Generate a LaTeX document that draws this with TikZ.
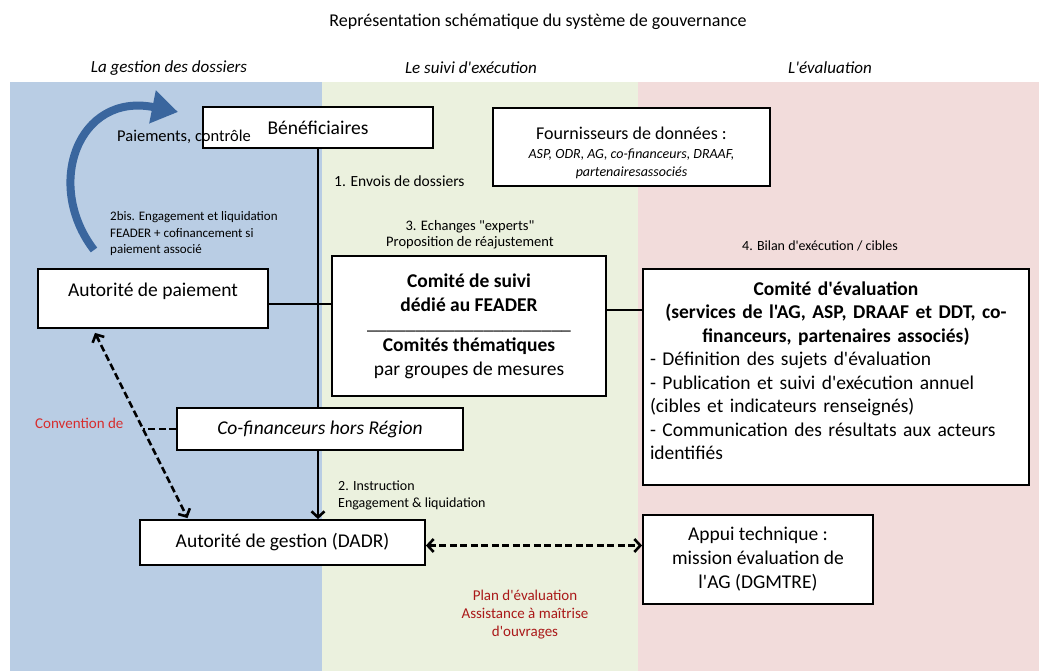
\documentclass[tikz,border=0pt]{standalone}
\usepackage{fontspec}
\setmainfont{Carlito}[Ligatures=TeXOff]
\usetikzlibrary{arrows.meta,positioning,calc}

\definecolor{colblue}{RGB}{185,205,228}
\definecolor{colgreen}{RGB}{235,241,222}
\definecolor{colpink}{RGB}{242,220,219}
\definecolor{arcblue}{RGB}{58,102,158}
\definecolor{convred}{RGB}{215,45,45}
\definecolor{planred}{RGB}{170,25,25}

\begin{document}
\begin{tikzpicture}[x=1pt,y=-1pt]
    \tikzset{
        box/.style={draw=black, line width=1.8pt, fill=white, inner sep=2pt,
            align=center, font=\fontsize{19.5}{24}\selectfont},
        note/.style={inner sep=0pt, align=left, font=\fontsize{14}{17}\selectfont},
        header/.style={inner sep=0pt, font=\fontsize{17}{20}\selectfont\itshape},
        spine/.style={line width=2.6pt},
        dashed link/.style={line width=2.6pt, dash pattern=on 7pt off 3.5pt},
        dashlink/.style={dashed link, {Straight Barb[length=6pt,width=13pt]}-{Straight Barb[length=6pt,width=13pt]}},
    }
    \useasboundingbox (0,0) rectangle (1039,671);
    \fill[white] (0,0) rectangle (1039,671);

    % three columns
    \foreach \xa/\xb/\c in {10/322/colblue, 322/638/colgreen, 638/1039/colpink} {
        \fill[\c] (\xa,82) rectangle (\xb,671);
    }

    % titles
    \node[inner sep=0pt, font=\fontsize{18}{21}\selectfont] (title) at (538,22)
        {Représentation schématique du système de gouvernance};
    \foreach \x/\txt/\nm in {169/La gestion des dossiers/hgest, 471/Le suivi d'exécution/hsuivi, 830/L'évaluation/heval} {
        \node[header] (\nm) at (\x,68) {\txt};
    }

    % boxes
    \node[box, minimum width=230, minimum height=41] (benef) at (318,127.5) {Bénéficiaires};
    \node[box, minimum width=277, minimum height=78, font=\fontsize{14}{18}\selectfont\itshape] (fourn) at (631.5,147)
        {\rule{0pt}{24pt}{\upshape\fontsize{18}{20}\selectfont Fournisseurs de données :}\\[1pt]
         ASP, ODR, AG, co-financeurs, DRAAF,\\
         partenairesassociés};
    \node[box, minimum width=230, minimum height=59] (apaie) at (153,298.5)
        {Autorité de paiement\\[-6pt] \mbox{}};
    \node[box, minimum width=274, minimum height=140] (csuivi) at (469,326)
        {\bfseries Comité de suivi\\ \bfseries dédié au FEADER\\[-6pt]
         \_\_\_\_\_\_\_\_\_\_\_\_\_\_\_\_\_\_\_\_\_\\[-2pt]
         \bfseries Comités thématiques\\ par groupes de mesures};
    \node[box, minimum width=386, minimum height=216] (ceval) at (836,377) {};
    \node[inner sep=0pt, text width=372pt, anchor=north,
        font=\fontsize{19.5}{23.5}\selectfont] (cevaltxt) at ([yshift=-13pt]ceval.north)
        {{\centering\bfseries Comité d'évaluation\\ (services de l'AG, ASP, DRAAF et DDT, co-\\
          financeurs, partenaires associés)\par}
         \raggedright
         - Définition des sujets d'évaluation\\
         - Publication et suivi d'exécution annuel\\
         (cibles et indicateurs renseignés)\\
         - Communication des résultats aux acteurs\\
         identifiés};
    \node[box, minimum width=286, minimum height=42] (cofin) at (320,429)
        {\itshape Co-financeurs hors Région};
    \node[box, minimum width=285, minimum height=45] (dadr) at (282.5,542.5)
        {Autorité de gestion (DADR)};
    \node[box, minimum width=230, minimum height=89] (appui) at (758,559.5)
        {Appui technique :\\ mission évaluation de\\ l'AG (DGMTRE)};

    % connectors
    \coordinate (hub) at (318,304);
    \coordinate (link) at (624,310);
    \draw[spine] (benef.south) -- (benef.south |- cofin.north);
    \draw[spine, -{Straight Barb[length=6pt,width=13pt]}] (benef.south |- cofin.south) -- (benef.south |- dadr.north);
    \draw[spine] (apaie.east |- hub) -- (hub -| csuivi.west);
    \draw[spine] (csuivi.east |- link) -- (link -| ceval.west);
    \draw[dashlink] ([shift={(-58pt,-4pt)}]apaie.south) -- coordinate[pos=0.52] (conv) ([shift={(-95pt,1pt)}]dadr.north);
    \draw[dashed link] (cofin.west) -- (cofin.west -| conv);
    \draw[dashlink] ([yshift=-3pt]dadr.east) -- ([yshift=-3pt]dadr.east -| appui.west);

    % curved arrow
    \draw[arcblue, line width=8pt, -{Triangle[length=26pt,width=32pt]}]
        (94,250) .. controls (44,185) and (78,92) .. (178,112);

    % labels
    \node[inner sep=0pt, font=\fontsize{16.5}{19}\selectfont] (paie) at (184,137) {Paiements, contrôle};
    \node[note, anchor=west, font=\fontsize{13}{16.5}\selectfont] (bis) at (110,234)
        {2bis. Engagement et liquidation\\ FEADER + cofinancement si\\ paiement associé};
    \node[note, anchor=west, font=\fontsize{15.5}{18}\selectfont] (envoi) at (334,181) {1. Envois de dossiers};
    \node[note, align=center, font=\fontsize{14.5}{16}\selectfont] (echange) at (470,234.5)
        {3. Echanges "experts"\\ Proposition de réajustement};
    \node[note] (bilan) at (820,246) {4. Bilan d'exécution / cibles};
    \node[note, anchor=west, text=convred, font=\fontsize{15}{18}\selectfont] (convtxt) at (35,423) {Convention de};
    \node[note, anchor=west] (instr) at (338,495) {2. Instruction\\ Engagement \& liquidation};
    \node[note, align=center, text=planred, font=\fontsize{15}{18}\selectfont] (plan) at (525,615)
        {Plan d'évaluation\\ Assistance à maîtrise\\ d'ouvrages};
\end{tikzpicture}
\end{document}
